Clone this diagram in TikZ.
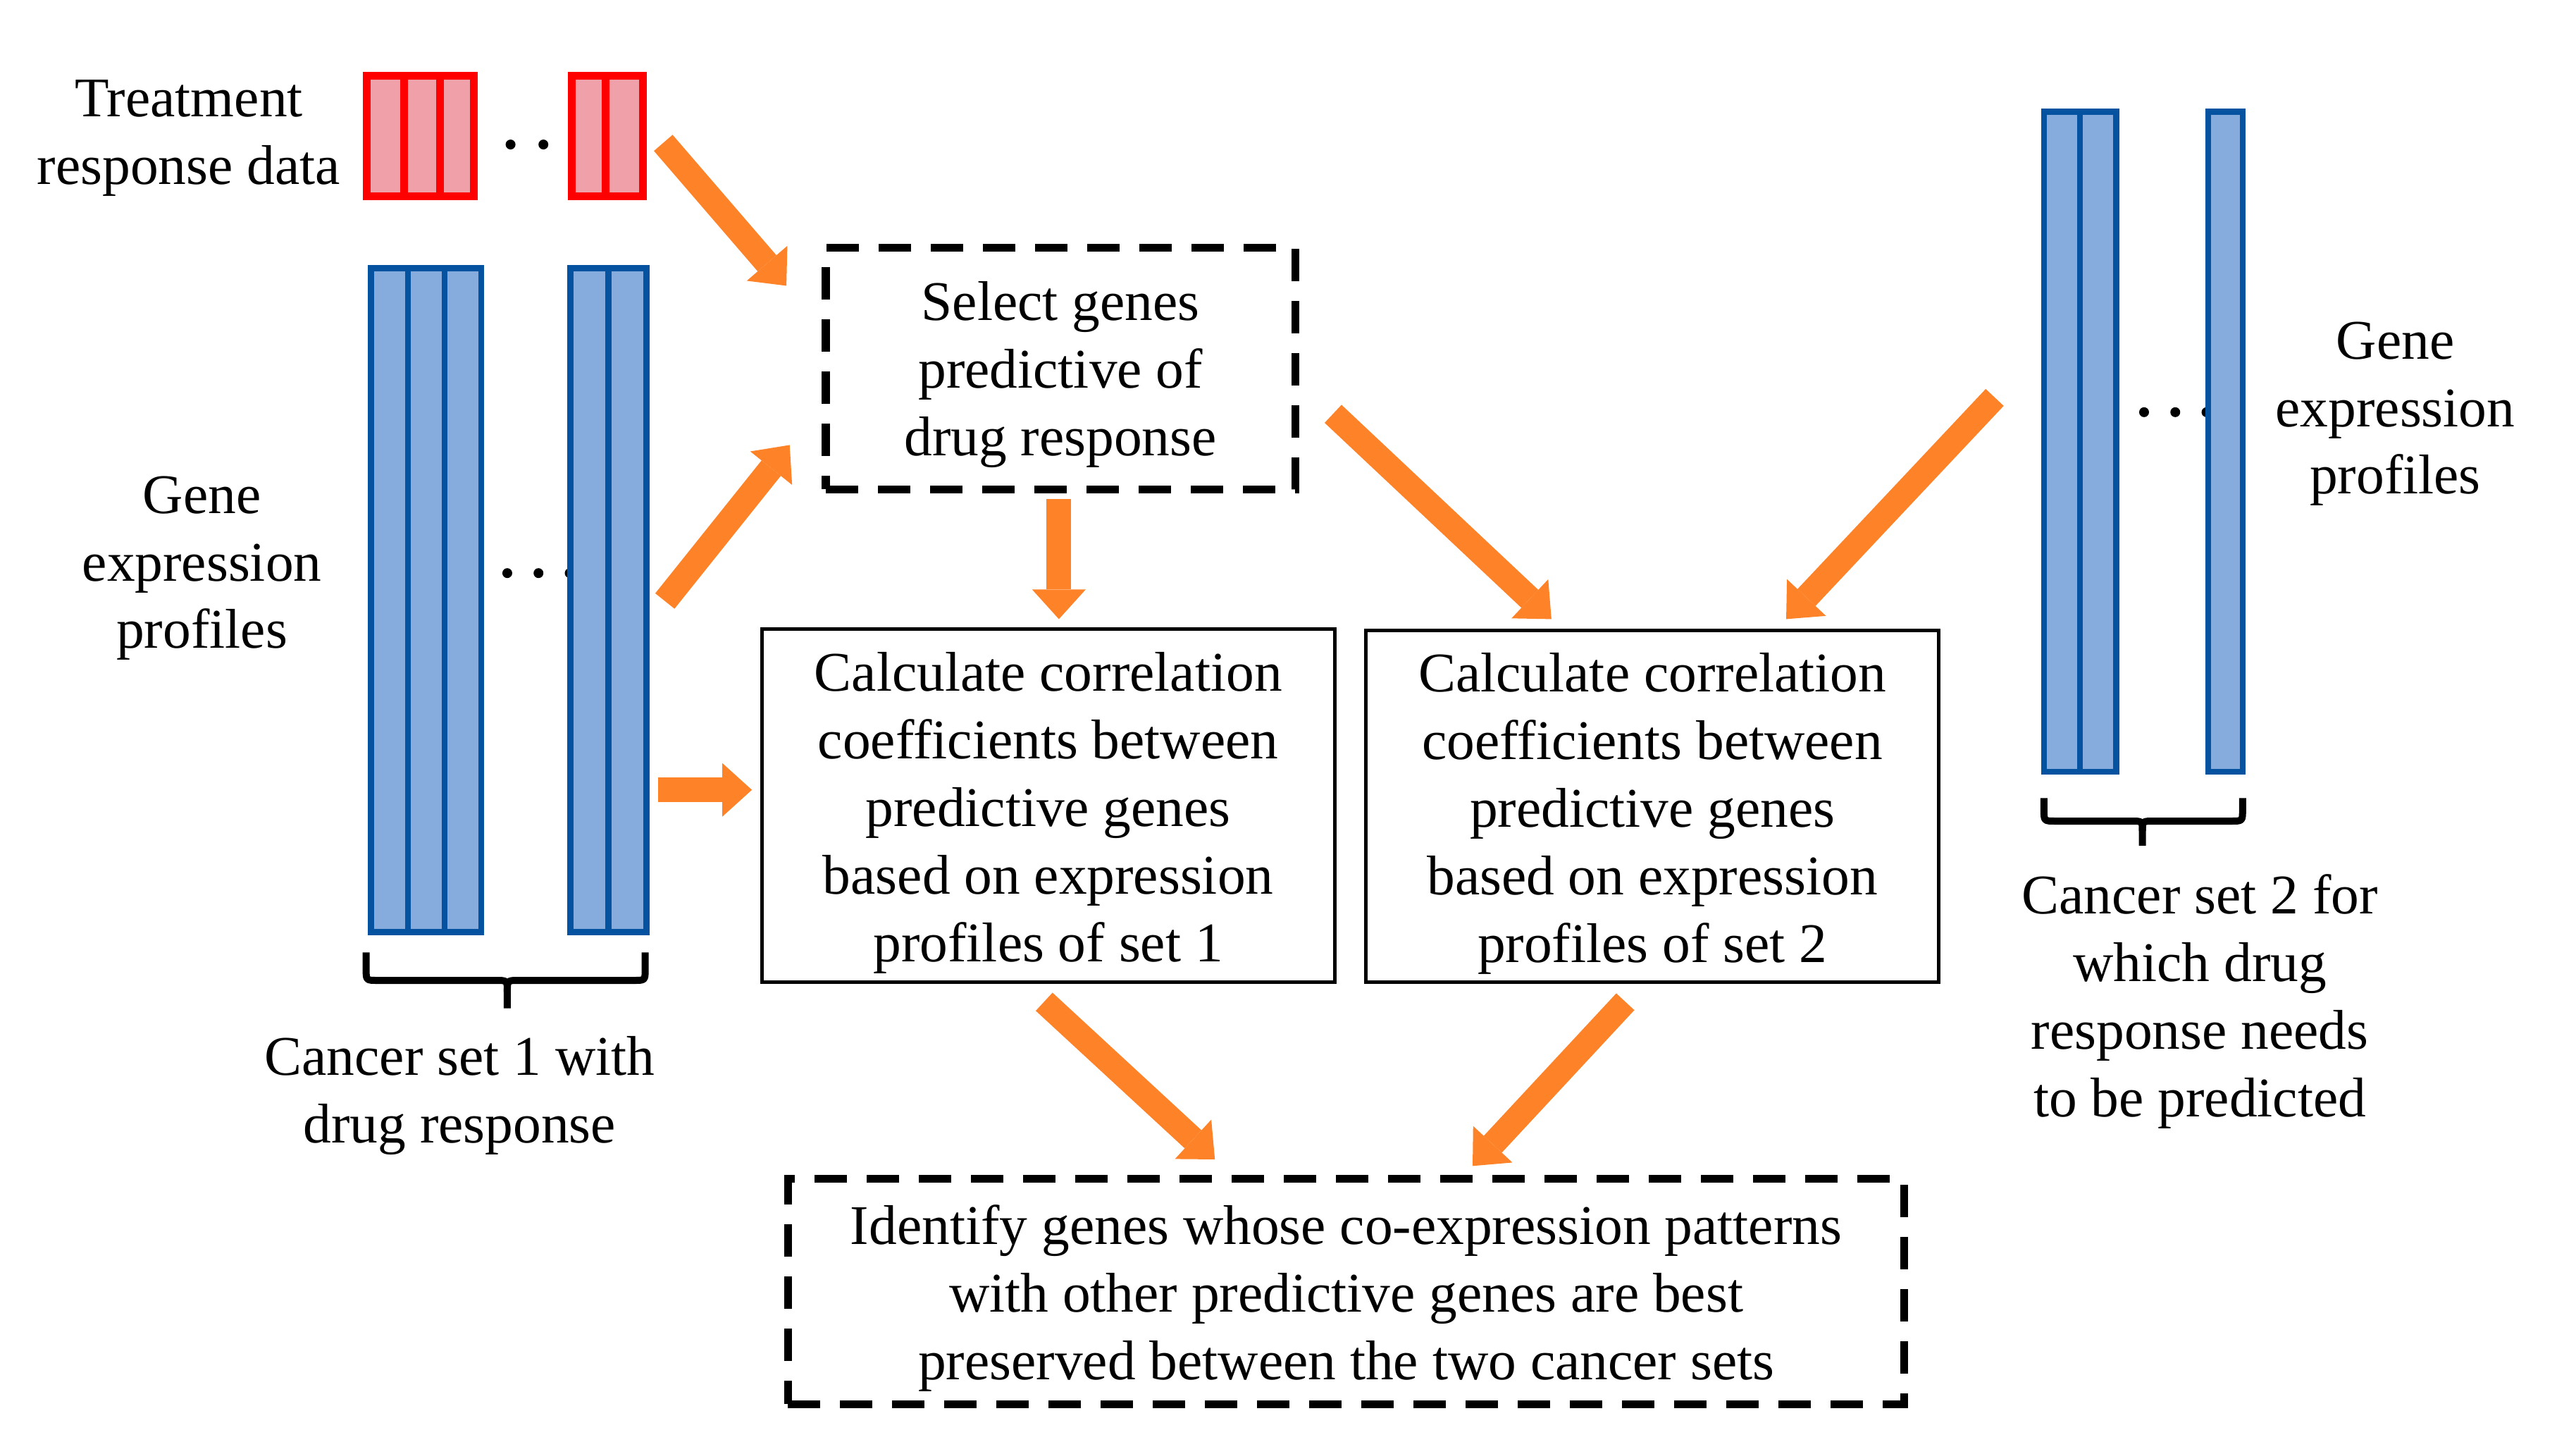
\documentclass[tikz,border=0pt]{standalone}
\usepackage{fontspec}
\setmainfont{Liberation Serif}
\usetikzlibrary{arrows.meta}
\definecolor{barblue}{RGB}{133,172,221}
\definecolor{edgeblue}{RGB}{4,82,160}
\definecolor{barpink}{RGB}{240,160,168}
\definecolor{edgered}{RGB}{255,0,0}
\definecolor{arrorange}{RGB}{253,130,40}
\newcommand\myunit{0.2330mm}
\begin{document}
\begin{tikzpicture}[x=\myunit,y=-\myunit,
  txt/.style={align=center,inner sep=0pt,font=\fontsize{22.6pt}{27.3pt}\selectfont},
  dashbox/.style={draw,line width=1.1mm,dash pattern=on 4.6mm off 2.8mm,inner sep=0pt},
  solidbox/.style={draw,line width=0.5mm,inner sep=0pt},
  bluecol/.style={draw=edgeblue,fill=barblue,line width=0.85mm},
  redcol/.style={draw=edgered,fill=barpink,line width=1.1mm},
  flow/.style={draw=arrorange,line width=3.5mm,-{Triangle[width=7.6mm,length=4.2mm,line width=0pt]}},
  dotmark/.style={circle,fill=black,inner sep=0pt,minimum size=1.4mm},
  brace/.style={draw,line width=1mm,line join=round}
]
\useasboundingbox (0,0) rectangle (1569.1,885.4);

% ---------- dots ----------
\node[dotmark] (rd1) at (311,88) {};
\node[dotmark] (rd2) at (331,88) {};
\node[dotmark] (bd1) at (309,349) {};
\node[dotmark] (bd2) at (328,349) {};
\node[dotmark] (bd3) at (347,349) {};
\node[dotmark] (cd1) at (1306,251) {};
\node[dotmark] (cd2) at (1325,251) {};
\node[dotmark] (cd3) at (1344,251) {};

% ---------- red bars ----------
\foreach \a/\b in {223.3/246,246/268,268/288.7,348.3/369,369/391.7}
  \draw[redcol] (\a,46.3) rectangle (\b,119.7);

% ---------- left blue bars ----------
\foreach \a/\b in {226/248.4,248.4/270.8,270.8/293.2,347.5/370.6,370.6/393.8}
  \draw[bluecol] (\a,163.2) rectangle (\b,567.5);

% ---------- right blue bars ----------
\foreach \a/\b in {1245/1267,1267/1289,1345/1366}
  \draw[bluecol] (\a,68) rectangle (\b,470);

% ---------- braces ----------
\draw[brace] (223,580) -- (223,590) .. controls (223,597) .. (230,597) -- (302,597)
  .. controls (309,597) .. (309,604) -- (309,614);
\draw[brace] (309,604) .. controls (309,597) .. (316,597) -- (386,597)
  .. controls (393,597) .. (393,590) -- (393,580);
\draw[brace] (1245,486) -- (1245,493) .. controls (1245,500) .. (1252,500) -- (1298,500)
  .. controls (1305,500) .. (1305,506) -- (1305,515);
\draw[brace] (1305,506) .. controls (1305,500) .. (1312,500) -- (1359,500)
  .. controls (1366,500) .. (1366,493) -- (1366,486);

% ---------- labels ----------
\node[txt] (treat) at (115,84) {Treatment\\response data};
\node[txt] (gene1) at (123,346) {Gene\\expression\\profiles};
\node[txt] (set1) at (280,667) {Cancer set 1 with\\drug response};
\node[txt] (gene2) at (1459,252) {Gene\\expression\\profiles};
\node[txt] (set2) at (1340,610) {Cancer set 2 for\\which drug\\response needs\\to be predicted};

% ---------- boxes ----------
\node[dashbox,minimum width=286*\myunit,minimum height=147*\myunit] (select) at (646,224.5) {};
\node[txt] (selectt) at ([yshift=-0.85mm]select.center)
  {Select genes\\predictive of\\drug response};
\node[solidbox,minimum width=349*\myunit,minimum height=215*\myunit] (calc1) at (638.5,490.5) {};
\node[txt] (calc1t) at ([yshift=-1.05mm]calc1.center)
  {Calculate correlation\\coefficients between\\predictive genes\\based on expression\\profiles of set 1};
\node[solidbox,minimum width=349*\myunit,minimum height=214*\myunit] (calc2) at (1006.5,491) {};
\node[txt] (calc2t) at ([yshift=-1.05mm]calc2.center)
  {Calculate correlation\\coefficients between\\predictive genes\\based on expression\\profiles of set 2};
\node[dashbox,minimum width=680*\myunit,minimum height=137*\myunit] (ident) at (820,786.5) {};
\node[txt] (identt) at ([yshift=-0.95mm]ident.center)
  {Identify genes whose co-expression patterns\\with other predictive genes are best\\preserved between the two cancer sets};

% ---------- arrow end points ----------
\coordinate (a1s) at (404,87);   \coordinate (a1e) at (479,174);
\coordinate (a2s) at (405,366);  \coordinate (a2e) at (481,271);
\coordinate (a3s) at (401,481);  \coordinate (a3e) at (458,481);
\coordinate (a4s) at (645,304);  \coordinate (a4e) at (645,377);
\coordinate (a5s) at (812,252);  \coordinate (a5e) at (945,377);
\coordinate (a6s) at (1215,242); \coordinate (a6e) at (1088,377);
\coordinate (a7s) at (636,610);  \coordinate (a7e) at (740,706);
\coordinate (a8s) at (990,610);  \coordinate (a8e) at (897,710);

\draw[flow] (a1s) -- (a1e);
\draw[flow] (a2s) -- (a2e);
\draw[flow] (a3s) -- (a3e);
\draw[flow] (a4s) -- (a4e);
\draw[flow] (a5s) -- (a5e);
\draw[flow] (a6s) -- (a6e);
\draw[flow] (a7s) -- (a7e);
\draw[flow] (a8s) -- (a8e);
\end{tikzpicture}
\end{document}
